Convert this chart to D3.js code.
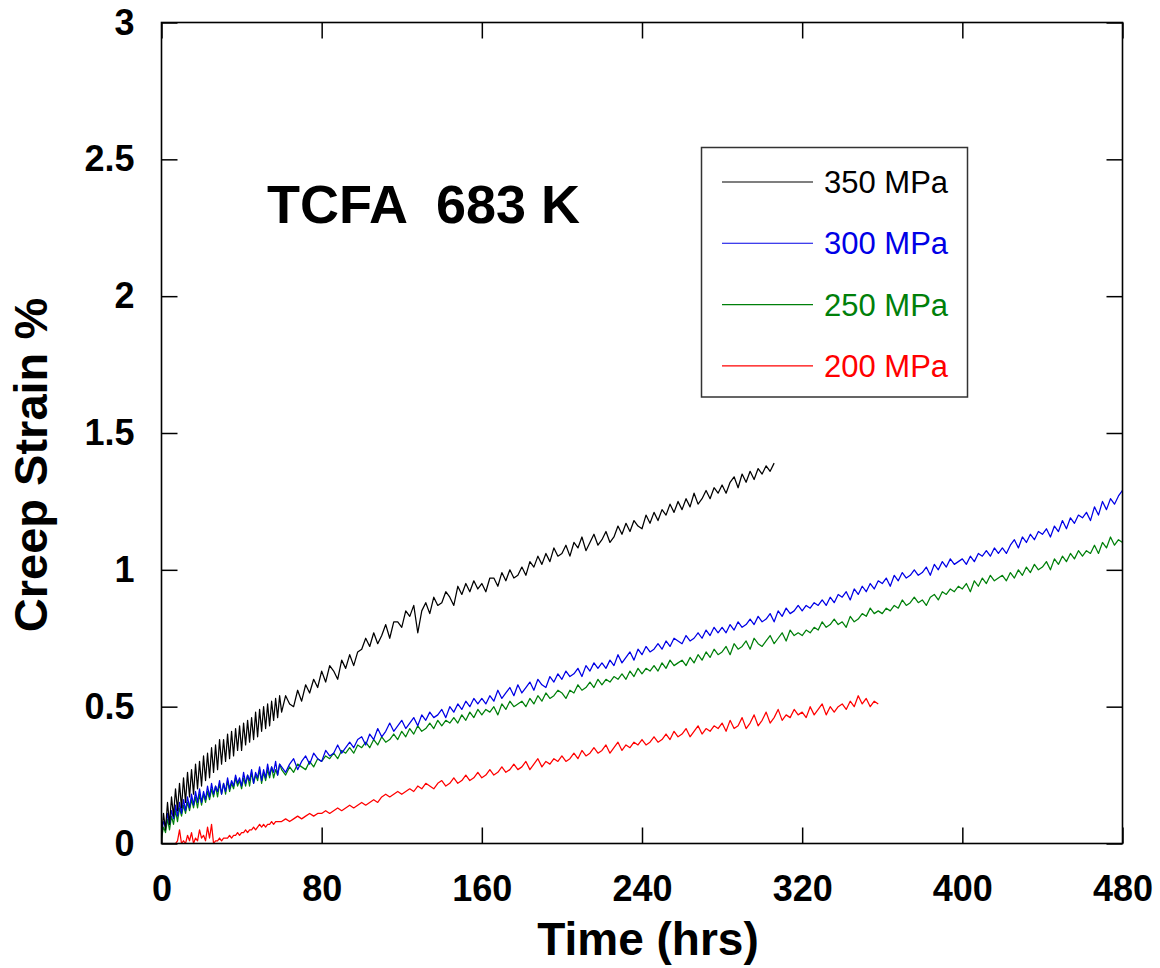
<!DOCTYPE html>
<html>
<head>
<meta charset="utf-8">
<script src="https://cdn.jsdelivr.net/npm/d3@7"></script>
<style>
  html, body { margin: 0; padding: 0; background: #fff; }
  svg { display: block; font-family: "Liberation Sans", Arial, sans-serif; }
</style>
</head>
<body>
<svg id="chart" width="1160" height="968"></svg>
<script>
// Creep strain (%) of TCFA at 683 K.
// Logged hourly for the first 60 h, then every 2 h.
const earlyStepHours = 1;
const lateStartHours = 60;
const lateStepHours = 2;

const xTicks = [0, 80, 160, 240, 320, 400, 480];
const yTicks = [0, 0.5, 1, 1.5, 2, 2.5, 3];
const yTickLabels = ["0", "0.5", "1", "1.5", "2", "2.5", "3"];

const seriesNames = ["350 MPa", "300 MPa", "250 MPa", "200 MPa"];
const seriesColors = ["#000000", "#0000e6", "#00800a", "#ff0000"];

// ---- 350 MPa ----
const strain350Early = [
  0.03,0.11,0.05,0.15,0.07,0.17,0.10,0.20,0.12,0.22,
  0.13,0.24,0.15,0.26,0.17,0.27,0.18,0.29,0.20,0.30,
  0.21,0.32,0.23,0.33,0.24,0.35,0.26,0.36,0.27,0.38,
  0.29,0.38,0.30,0.40,0.31,0.41,0.32,0.42,0.34,0.43,
  0.34,0.44,0.36,0.45,0.37,0.46,0.38,0.48,0.39,0.49,
  0.41,0.50,0.42,0.51,0.43,0.52,0.45,0.53,0.46,0.54
];
const strain350 = [
  0.48,0.54,0.51,0.50,0.56,0.52,0.58,0.55,0.60,0.57,
  0.63,0.59,0.65,0.63,0.60,0.67,0.64,0.69,0.65,0.70,
  0.71,0.75,0.72,0.77,0.73,0.76,0.80,0.75,0.81,0.81,
  0.79,0.85,0.83,0.87,0.77,0.85,0.88,0.84,0.90,0.87,
  0.88,0.92,0.90,0.87,0.94,0.91,0.95,0.92,0.96,0.93,
  0.95,0.92,0.97,0.97,0.94,0.99,0.96,1.00,0.97,0.98,
  1.01,0.98,1.03,1.01,1.05,1.02,1.06,1.03,1.08,1.05,
  1.06,1.09,1.05,1.10,1.08,1.12,1.07,1.10,1.13,1.09,
  1.11,1.14,1.10,1.12,1.16,1.13,1.17,1.14,1.18,1.16,
  1.15,1.20,1.17,1.21,1.18,1.22,1.20,1.24,1.21,1.25,
  1.22,1.26,1.23,1.28,1.24,1.26,1.29,1.26,1.30,1.28,
  1.31,1.28,1.32,1.34,1.30,1.35,1.32,1.36,1.33,1.37,
  1.35,1.38,1.36,1.39
];

// ---- 300 MPa ----
const strain300Early = [
  0.04,0.08,0.06,0.11,0.07,0.12,0.09,0.14,0.10,0.15,
  0.11,0.16,0.12,0.17,0.13,0.18,0.14,0.19,0.15,0.20,
  0.15,0.19,0.16,0.21,0.17,0.22,0.18,0.21,0.19,0.23,
  0.18,0.22,0.19,0.24,0.20,0.23,0.21,0.25,0.22,0.24,
  0.21,0.26,0.22,0.25,0.23,0.27,0.22,0.26,0.24,0.28,
  0.23,0.27,0.24,0.29,0.25,0.28,0.26,0.30,0.25,0.29
];
const strain300 = [
  0.28,0.26,0.29,0.31,0.27,0.30,0.32,0.29,0.33,0.31,
  0.30,0.34,0.32,0.33,0.36,0.33,0.35,0.37,0.35,0.38,
  0.39,0.36,0.40,0.38,0.42,0.39,0.41,0.44,0.41,0.43,
  0.45,0.42,0.44,0.46,0.43,0.47,0.45,0.48,0.46,0.47,
  0.49,0.46,0.50,0.48,0.51,0.49,0.52,0.50,0.53,0.51,
  0.53,0.51,0.54,0.52,0.56,0.53,0.55,0.57,0.54,0.58,
  0.55,0.57,0.59,0.56,0.60,0.58,0.57,0.61,0.59,0.62,
  0.60,0.63,0.61,0.62,0.64,0.61,0.65,0.63,0.66,0.64,
  0.66,0.64,0.67,0.65,0.69,0.66,0.68,0.70,0.67,0.71,
  0.69,0.72,0.70,0.71,0.73,0.71,0.74,0.72,0.75,0.74,
  0.73,0.76,0.74,0.75,0.77,0.75,0.78,0.76,0.79,0.77,
  0.79,0.77,0.80,0.78,0.81,0.79,0.80,0.82,0.80,0.83,
  0.81,0.82,0.84,0.81,0.85,0.83,0.86,0.84,0.85,0.87,
  0.85,0.87,0.86,0.88,0.87,0.89,0.87,0.90,0.88,0.91,
  0.90,0.92,0.89,0.93,0.91,0.94,0.92,0.95,0.93,0.96,
  0.95,0.97,0.94,0.98,0.96,0.99,0.97,0.98,1.00,0.98,
  0.99,1.01,0.98,1.02,1.00,1.03,1.01,1.04,1.02,1.03,
  1.04,1.02,1.05,1.03,1.06,1.05,1.07,1.05,1.08,1.06,
  1.08,1.06,1.09,1.11,1.08,1.12,1.10,1.13,1.11,1.14,
  1.13,1.15,1.12,1.16,1.14,1.18,1.15,1.19,1.17,1.20,
  1.19,1.21,1.18,1.23,1.20,1.25,1.22,1.26,1.24,1.27,
  1.29
];

// ---- 250 MPa ----
const strain250Early = [
  0.02,0.06,0.04,0.09,0.05,0.10,0.07,0.12,0.08,0.13,
  0.10,0.14,0.11,0.15,0.12,0.16,0.13,0.17,0.13,0.18,
  0.14,0.18,0.15,0.19,0.16,0.20,0.17,0.21,0.17,0.22,
  0.18,0.22,0.18,0.23,0.19,0.22,0.20,0.24,0.21,0.23,
  0.20,0.24,0.21,0.25,0.21,0.26,0.22,0.25,0.23,0.27,
  0.22,0.26,0.23,0.27,0.24,0.28,0.24,0.27,0.25,0.29
];
const strain250 = [
  0.27,0.25,0.28,0.26,0.29,0.28,0.27,0.30,0.28,0.31,
  0.30,0.32,0.31,0.33,0.31,0.34,0.33,0.35,0.33,0.36,
  0.35,0.37,0.35,0.38,0.36,0.39,0.37,0.38,0.40,0.38,
  0.41,0.39,0.42,0.40,0.43,0.41,0.42,0.44,0.42,0.45,
  0.43,0.45,0.44,0.46,0.44,0.47,0.45,0.48,0.46,0.49,
  0.47,0.49,0.48,0.50,0.47,0.51,0.49,0.52,0.50,0.51,
  0.52,0.50,0.53,0.51,0.54,0.52,0.55,0.53,0.54,0.56,
  0.55,0.53,0.56,0.55,0.58,0.56,0.57,0.59,0.57,0.60,
  0.58,0.60,0.59,0.61,0.60,0.62,0.60,0.63,0.61,0.64,
  0.62,0.64,0.63,0.65,0.63,0.66,0.64,0.67,0.65,0.66,
  0.67,0.65,0.68,0.66,0.69,0.67,0.70,0.68,0.71,0.69,
  0.70,0.72,0.69,0.73,0.71,0.72,0.74,0.71,0.75,0.73,
  0.72,0.74,0.76,0.73,0.75,0.77,0.74,0.78,0.76,0.77,
  0.76,0.78,0.77,0.79,0.78,0.81,0.79,0.80,0.82,0.80,
  0.81,0.79,0.83,0.81,0.82,0.84,0.83,0.86,0.84,0.85,
  0.84,0.86,0.85,0.87,0.86,0.89,0.87,0.88,0.90,0.88,
  0.89,0.87,0.90,0.91,0.89,0.92,0.91,0.93,0.92,0.94,
  0.93,0.95,0.92,0.96,0.94,0.97,0.95,0.98,0.96,0.97,
  0.98,0.96,0.99,0.97,1.00,0.98,1.01,0.99,1.02,1.00,
  1.01,1.03,1.00,1.04,1.02,1.05,1.03,1.06,1.04,1.07,
  1.05,1.07,1.06,1.09,1.06,1.10,1.08,1.12,1.09,1.11,
  1.10
];

// ---- 200 MPa ----
const strain200Early = [
  0.00,0.00,0.00,0.00,0.00,0.00,0.00,0.00,0.01,0.05,
  0.00,0.01,0.00,0.03,0.01,0.04,0.00,0.02,0.01,0.05,
  0.02,0.03,0.01,0.06,0.02,0.07,0.00,0.01,0.01,0.02,
  0.01,0.02,0.02,0.02,0.03,0.02,0.03,0.03,0.04,0.03,
  0.04,0.04,0.05,0.04,0.05,0.05,0.06,0.05,0.06,0.07,
  0.06,0.07,0.06,0.07,0.07,0.08,0.07,0.08,0.08,0.08
];
const strain200 = [
  0.08,0.09,0.08,0.09,0.10,0.09,0.10,0.11,0.10,0.11,
  0.11,0.12,0.11,0.12,0.13,0.12,0.13,0.14,0.13,0.14,
  0.15,0.14,0.15,0.16,0.15,0.17,0.18,0.17,0.18,0.19,
  0.18,0.19,0.20,0.19,0.21,0.20,0.22,0.21,0.20,0.22,
  0.23,0.21,0.22,0.24,0.22,0.23,0.25,0.23,0.24,0.26,
  0.24,0.25,0.27,0.25,0.26,0.28,0.26,0.27,0.29,0.27,
  0.28,0.30,0.27,0.29,0.31,0.28,0.30,0.29,0.31,0.30,
  0.32,0.30,0.31,0.33,0.31,0.34,0.32,0.33,0.35,0.33,
  0.34,0.36,0.33,0.35,0.37,0.34,0.36,0.35,0.37,0.36,
  0.38,0.36,0.37,0.39,0.37,0.38,0.40,0.38,0.41,0.39,
  0.40,0.42,0.39,0.41,0.43,0.40,0.42,0.41,0.43,0.42,
  0.44,0.41,0.45,0.42,0.43,0.46,0.42,0.44,0.47,0.43,
  0.45,0.48,0.44,0.46,0.49,0.45,0.47,0.46,0.49,0.47,
  0.48,0.46,0.50,0.47,0.49,0.51,0.47,0.50,0.48,0.50,
  0.51,0.49,0.52,0.50,0.54,0.51,0.53,0.50,0.52,0.51
];

const seriesEarly = [strain350Early, strain300Early, strain250Early, strain200Early];
const seriesLate = [strain350, strain300, strain250, strain200];

function toPoints(early, late) {
  return early.map((v, i) => [i * earlyStepHours, v])
    .concat(late.map((v, i) => [lateStartHours + i * lateStepHours, v]));
}

const svg = d3.select("#chart");
const plot = { left: 161.5, top: 22.5, right: 1122.5, bottom: 843.5 };

const x = d3.scaleLinear().domain([0, 480]).range([plot.left, plot.right]);
const y = d3.scaleLinear().domain([0, 3]).range([plot.bottom, plot.top]);

svg.append("defs").append("clipPath").attr("id", "plot-clip")
  .append("rect")
  .attr("x", plot.left).attr("y", plot.top)
  .attr("width", plot.right - plot.left).attr("height", plot.bottom - plot.top);

// Data curves
const line = d3.line()
  .x(d => x(d[0]))
  .y(d => y(d[1]));

const curves = svg.append("g").attr("clip-path", "url(#plot-clip)");
// lower-stress curves first so the 350 MPa trace sits on top
[3, 2, 1, 0].forEach(k => {
  curves.append("path")
    .datum(toPoints(seriesEarly[k], seriesLate[k]))
    .attr("d", line)
    .attr("fill", "none")
    .attr("stroke", seriesColors[k])
    .attr("stroke-width", 1.25)
    .attr("stroke-linejoin", "round");
});

// Axes: labelled bottom/left, tick-only top/right, all ticks inward
const tickLen = 16;
function styleAxis(g) {
  g.select(".domain").remove();
  g.selectAll(".tick line").attr("stroke", "#000").attr("stroke-width", 1.5);
}

svg.append("g")
  .attr("transform", `translate(0,${plot.bottom})`)
  .call(d3.axisBottom(x).tickValues(xTicks).tickSizeInner(-tickLen).tickSizeOuter(0).tickPadding(31.5))
  .call(styleAxis)
  .call(g => g.selectAll(".tick text")
    .attr("font-size", 36).attr("font-weight", "bold")
    .attr("font-family", "'Liberation Sans', Arial, sans-serif").attr("fill", "#000"));

svg.append("g")
  .attr("transform", `translate(${plot.left},0)`)
  .call(d3.axisLeft(y).tickValues(yTicks).tickFormat((d, i) => yTickLabels[i])
    .tickSizeInner(-tickLen).tickSizeOuter(0).tickPadding(27))
  .call(styleAxis)
  .call(g => g.selectAll(".tick text")
    .attr("font-size", 36).attr("font-weight", "bold")
    .attr("font-family", "'Liberation Sans', Arial, sans-serif").attr("fill", "#000"));

svg.append("g")
  .attr("transform", `translate(0,${plot.top})`)
  .call(d3.axisTop(x).tickValues(xTicks).tickSizeInner(-tickLen).tickSizeOuter(0).tickFormat(""))
  .call(styleAxis);

svg.append("g")
  .attr("transform", `translate(${plot.right},0)`)
  .call(d3.axisRight(y).tickValues(yTicks).tickSizeInner(-tickLen).tickSizeOuter(0).tickFormat(""))
  .call(styleAxis);

// Frame
svg.append("rect")
  .attr("x", plot.left).attr("y", plot.top)
  .attr("width", plot.right - plot.left).attr("height", plot.bottom - plot.top)
  .attr("fill", "none").attr("stroke", "#000").attr("stroke-width", 1.6);

// Axis titles
svg.append("text")
  .attr("x", 648).attr("y", 955)
  .attr("text-anchor", "middle")
  .attr("font-size", 46).attr("font-weight", "bold")
  .text("Time (hrs)");

svg.append("text")
  .attr("transform", "translate(47,465) rotate(-90)")
  .attr("text-anchor", "middle")
  .attr("font-size", 47).attr("font-weight", "bold")
  .text("Creep Strain %");

// In-plot title
svg.append("text")
  .attr("x", 267).attr("y", 223)
  .attr("font-size", 54).attr("font-weight", "bold")
  .style("white-space", "pre")
  .text("TCFA  683 K");

// Legend
const legend = svg.append("g");
legend.append("rect")
  .attr("x", 701.5).attr("y", 147.5).attr("width", 266).attr("height", 249.5)
  .attr("fill", "#fff").attr("stroke", "#333").attr("stroke-width", 1.5);

seriesNames.forEach((name, i) => {
  const ly = 182 + i * 61.3;
  legend.append("line")
    .attr("x1", 722).attr("x2", 813).attr("y1", ly).attr("y2", ly)
    .attr("stroke", seriesColors[i]).attr("stroke-width", 1.1);
  legend.append("text")
    .attr("x", 824).attr("y", ly + 11)
    .attr("font-size", 31)
    .attr("fill", seriesColors[i])
    .text(name);
});
</script>
</body>
</html>
